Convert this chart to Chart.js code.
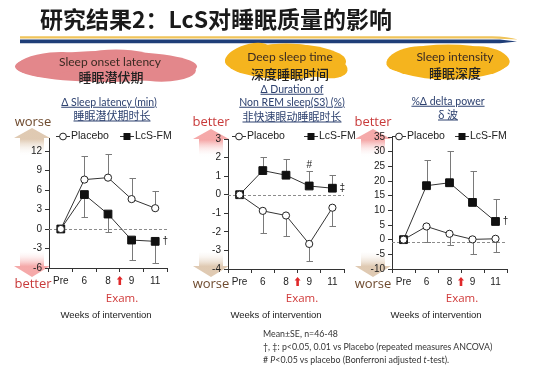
<!DOCTYPE html>
<html><head><meta charset="utf-8">
<script src="https://cdn.jsdelivr.net/npm/chart.js@4.4.0/dist/chart.umd.min.js"></script>
<style>
html,body{margin:0;padding:0;background:#fff;}
#wrap{position:relative;width:550px;height:366px;overflow:hidden;font-family:"Liberation Sans",Arial,sans-serif;}
canvas{position:absolute;left:0;top:0;}
.t{position:absolute;white-space:nowrap;line-height:1;transform:translate(-50%,-50%);}
.title{position:absolute;left:40px;top:18px;transform:translateY(-50%);font-family:"Noto Sans CJK SC",sans-serif;font-weight:700;font-size:23px;color:#1a1a1a;white-space:nowrap;line-height:1;}
.blobEn{font-family:Lato,"Open Sans",sans-serif;font-size:12px;color:#3a2a22;}
.blobZh{font-family:"Noto Sans CJK SC",sans-serif;font-size:13px;font-weight:500;color:#222;}
.sub{font-family:Lato,"Open Sans",sans-serif;font-size:10.5px;color:#2e4270;text-decoration:underline;}
.subZh{font-family:"Noto Sans CJK SC",sans-serif;font-size:11px;color:#2e4270;text-decoration:underline;}
.worse{font-family:"Open Sans",sans-serif;font-size:13px;color:#6e4a2e;}
.better{font-family:"Open Sans",sans-serif;font-size:13px;color:#c83a3a;}
.exam{font-family:"Open Sans",sans-serif;font-size:11.5px;color:#d03a3a;}
.weeks{font-family:"Liberation Sans",Arial,sans-serif;font-size:9.5px;color:#222;}
.foot{position:absolute;left:263px;font-family:Lato,"Open Sans",sans-serif;font-size:8.8px;color:#333;white-space:nowrap;line-height:1;transform:translateY(-50%);}
</style></head><body>
<div id="wrap">
<canvas id="bg" width="550" height="366"></canvas>
<canvas id="c1" width="550" height="366"></canvas>
<canvas id="c2" width="550" height="366"></canvas>
<canvas id="c3" width="550" height="366"></canvas>

<div class="title">研究结果2：LcS对睡眠质量的影响</div>

<div class="t blobEn" style="left:110px;top:62px">Sleep onset latency</div>
<div class="t blobZh" style="left:111px;top:76px">睡眠潜伏期</div>
<div class="t blobEn" style="left:290px;top:57px">Deep sleep time</div>
<div class="t blobZh" style="left:290px;top:73px">深度睡眠时间</div>
<div class="t blobEn" style="left:455px;top:57px">Sleep intensity</div>
<div class="t blobZh" style="left:455px;top:72px">睡眠深度</div>

<div class="t sub" style="left:109px;top:102px">Δ Sleep latency (min)</div>
<div class="t subZh" style="left:112px;top:115px">睡眠潜伏期时长</div>
<div class="t sub" style="left:292px;top:89px">Δ Duration of</div>
<div class="t sub" style="left:292px;top:102px">Non REM sleep(S3) (%)</div>
<div class="t subZh" style="left:292px;top:116px">非快速眼动睡眠时长</div>
<div class="t sub" style="left:448px;top:101px">%Δ delta power</div>
<div class="t subZh" style="left:448px;top:114px">δ 波</div>

<div class="t worse" style="left:33px;top:121px">worse</div>
<div class="t better" style="left:33px;top:283px">better</div>
<div class="t better" style="left:211px;top:121px">better</div>
<div class="t worse" style="left:211px;top:283px">worse</div>
<div class="t better" style="left:373px;top:121px">better</div>
<div class="t worse" style="left:373px;top:283px">worse</div>

<div class="t exam" style="left:122px;top:298px">Exam.</div>
<div class="t exam" style="left:302px;top:298px">Exam.</div>
<div class="t exam" style="left:462px;top:298px">Exam.</div>

<div class="t weeks" style="left:106px;top:315px">Weeks of intervention</div>
<div class="t weeks" style="left:276px;top:315px">Weeks of intervention</div>
<div class="t weeks" style="left:436px;top:315px">Weeks of intervention</div>

<div class="foot" style="top:334px">Mean±SE, n=46-48</div>
<div class="foot" style="top:347px">†, ‡: p&lt;0.05, 0.01 vs Placebo (repeated measures ANCOVA)</div>
<div class="foot" style="top:360px"># <i>P</i>&lt;0.05 vs placebo (Bonferroni adjusted <i>t</i>-test).</div>
</div>

<script>
// ---------------- data ----------------
const categories = ['Pre', '6', '8', '9', '11'];

const latencyPlacebo   = [0, 7.6, 7.9, 4.6, 3.2];
const latencyPlaceboSE = [0, 3.6, 3.6, 3.3, 2.7];
const latencyLcS       = [0, 5.3, 2.3, -1.7, -1.9];
const latencyLcSSE     = [0, 3.4, 2.8, 3.05, 3.4];
const latencyTicks     = [-6, -3, 0, 3, 6, 9, 12];

const deepPlacebo   = [0, -0.87, -1.12, -2.65, -0.7];
const deepPlaceboSE = [0, 1.18, 1.08, 0.9, 1.0];
const deepLcS       = [0, 1.3, 1.05, 0.47, 0.35];
const deepLcSSE     = [0, 0.75, 0.9, 0.8, 0.7];
const deepTicks     = [-4, -3, -2, -1, 0, 1, 2, 3];

const deltaPlacebo   = [0, 4.5, 2.0, 0.1, 0.3];
const deltaPlaceboSE = [0, 5.3, 3.9, 4.9, 4.5];
const deltaLcS       = [0, 18.4, 19.4, 12.7, 6.2];
const deltaLcSSE     = [0, 8.6, 10.9, 10.8, 7.7];
const deltaTicks     = [-10, -5, 0, 5, 10, 15, 20, 25, 30, 35];

const seriesNames = ['Placebo', 'LcS-FM'];

// ---------------- background decorations ----------------
(function drawBg(){
  const c = document.getElementById('bg').getContext('2d');
  // header lines
  c.fillStyle = '#F0C45A';
  c.beginPath(); c.moveTo(20,36.3); c.lineTo(492,36.3); c.quadraticCurveTo(508,36.5,518,39.5);
  c.lineTo(492,38.4); c.lineTo(20,38.4); c.closePath(); c.fill();
  c.fillStyle = '#1F3E78';
  c.beginPath(); c.moveTo(20,39.6); c.lineTo(500,39.6); c.lineTo(517,41.5); c.lineTo(500,43.2); c.lineTo(20,43.2); c.closePath(); c.fill();

  function blob(cx, cy, rx, ry, col, bumps){
    c.save(); c.fillStyle = col; c.filter = 'blur(0.7px)';
    c.beginPath(); c.ellipse(cx, cy, rx, ry, 0, 0, Math.PI*2); c.fill();
    bumps.forEach(b => { c.beginPath(); c.ellipse(cx+b[0], cy+b[1], b[2], b[3], b[4]||0, 0, Math.PI*2); c.fill(); });
    c.restore();
  }
  blob(106, 66.5, 91, 15.5, '#E3878B', [[-55,-3,35,11,-0.1],[50,2,40,13,0.05],[10,-6,40,11]]);
  blob(286, 61.5, 60, 17.5, '#F5B41E', [[-38,-6,24,11,-0.3],[36,4,26,12,0.2],[0,-9,35,9]]);
  blob(448, 62, 60, 17.5, '#F5B41E', [[-36,-3,26,12,-0.2],[38,-4,24,11,0.2],[0,8,35,9]]);

  function arrow(cx, tipY, baseY, endY, col){
    const g = c.createLinearGradient(0, tipY, 0, endY);
    g.addColorStop(0, col); g.addColorStop(0.4, col); g.addColorStop(1, 'rgba(255,255,255,0)');
    c.save(); c.fillStyle = g;
    c.beginPath();
    c.moveTo(cx, tipY);
    c.lineTo(cx+18, baseY); c.lineTo(cx+12, baseY); c.lineTo(cx+12, endY);
    c.lineTo(cx-12, endY); c.lineTo(cx-12, baseY); c.lineTo(cx-18, baseY);
    c.closePath(); c.fill(); c.restore();
  }
  const tan = 'rgba(220,196,170,0.9)', pink = 'rgba(244,160,160,0.9)';
  arrow(32, 128, 138, 156, tan);
  arrow(32, 277, 266, 250, pink);
  arrow(211, 129, 139, 157, pink);
  arrow(211, 277, 266, 250, tan);
  arrow(373, 129, 139, 157, pink);
  arrow(373, 277, 266, 250, tan);
})();

// ---------------- charts ----------------
const panelCfg = {
  c1: { area:[49,167,138,268], min:-6, max:14, ticks:latencyTicks, ref:0,
        data:[latencyPlacebo, latencyLcS], se:[latencyPlaceboSE, latencyLcSSE], dir:[1,-1],
        legend:[56,120], marks:[{ds:1,i:4,t:'†',dx:10,dy:0}] },
  c2: { area:[228,344,139,269], min:-4, max:3, ticks:deepTicks, ref:0,
        data:[deepPlacebo, deepLcS], se:[deepPlaceboSE, deepLcSSE], dir:[-1,1],
        legend:[232,304], marks:[{ds:1,i:4,t:'‡',dx:10,dy:0},{ds:1,i:3,t:'#',dx:0,dy:-21}] },
  c3: { area:[392,507,137,269], min:-10, max:35, ticks:deltaTicks, ref:-0.8,
        data:[deltaPlacebo, deltaLcS], se:[deltaPlaceboSE, deltaLcSSE], dir:[-1,1],
        legend:[392,455], marks:[{ds:1,i:4,t:'†',dx:10,dy:0}] }
};

const panelPlugin = {
  id: 'panelDeco',
  beforeDatasetsDraw(chart){
    const cfg = panelCfg[chart.canvas.id];
    const ctx = chart.ctx, ca = chart.chartArea, xs = chart.scales.x, ys = chart.scales.y;
    ctx.save();
    const ry = Math.round(ys.getPixelForValue(cfg.ref)) + 0.5;
    ctx.strokeStyle = '#8c8c8c'; ctx.lineWidth = 1; ctx.setLineDash([3,2]);
    ctx.beginPath(); ctx.moveTo(ca.left, ry); ctx.lineTo(ca.right, ry); ctx.stroke();
    ctx.setLineDash([]);
    ctx.strokeStyle = '#7a7a7a';
    cfg.data.forEach((arr, d) => {
      arr.forEach((v, i) => {
        const se = cfg.se[d][i]; if (!se) return;
        const px = Math.round(xs.getPixelForValue(i)) + 0.5;
        const p0 = ys.getPixelForValue(v), p1 = Math.round(ys.getPixelForValue(v + cfg.dir[d]*se)) + 0.5;
        ctx.beginPath(); ctx.moveTo(px, p0); ctx.lineTo(px, p1);
        ctx.moveTo(px-3, p1); ctx.lineTo(px+3.5, p1); ctx.stroke();
      });
    });
    ctx.restore();
  },
  afterDraw(chart){
    const cfg = panelCfg[chart.canvas.id];
    const ctx = chart.ctx, xs = chart.scales.x, ys = chart.scales.y;
    ctx.save();
    const ly = 136;
    ctx.font = '10.5px "Liberation Sans", Arial, sans-serif';
    ctx.textBaseline = 'middle'; ctx.fillStyle = '#222';
    ctx.strokeStyle = '#333'; ctx.lineWidth = 1;
    let lx = cfg.legend[0];
    ctx.beginPath(); ctx.moveTo(lx, ly+0.5); ctx.lineTo(lx+14, ly+0.5); ctx.stroke();
    ctx.beginPath(); ctx.arc(lx+7, ly+0.5, 3.4, 0, Math.PI*2); ctx.fillStyle='#fff'; ctx.fill(); ctx.strokeStyle='#222'; ctx.stroke();
    ctx.fillStyle = '#222'; ctx.fillText(seriesNames[0], lx+15, ly+0.5);
    lx = cfg.legend[1];
    ctx.strokeStyle = '#333';
    ctx.beginPath(); ctx.moveTo(lx, ly+0.5); ctx.lineTo(lx+14, ly+0.5); ctx.stroke();
    ctx.fillStyle = '#111'; ctx.fillRect(lx+3.5, ly-3, 7, 7);
    ctx.fillStyle = '#222'; ctx.fillText(seriesNames[1], lx+15, ly+0.5);
    ctx.font = '10px "Liberation Sans", Arial, sans-serif';
    ctx.textAlign = 'center';
    cfg.marks.forEach(m => {
      const v = cfg.data[m.ds][m.i];
      ctx.fillText(m.t, xs.getPixelForValue(m.i) + m.dx, ys.getPixelForValue(v) + m.dy);
    });
    const ax = (xs.getPixelForValue(2) + xs.getPixelForValue(3)) / 2;
    const top = chart.chartArea.bottom + 8;
    ctx.fillStyle = '#e0282a';
    ctx.beginPath();
    ctx.moveTo(ax, top); ctx.lineTo(ax+3, top+3.5); ctx.lineTo(ax+1.3, top+3.5); ctx.lineTo(ax+1.3, top+9);
    ctx.lineTo(ax-1.3, top+9); ctx.lineTo(ax-1.3, top+3.5); ctx.lineTo(ax-3, top+3.5); ctx.closePath(); ctx.fill();
    ctx.restore();
  }
};

function makeChart(id){
  const cfg = panelCfg[id];
  const yW = 30, xH = 22;
  const [L, R, T, B] = cfg.area;
  new Chart(document.getElementById(id), {
    type: 'line',
    data: {
      labels: categories,
      datasets: [
        { label: seriesNames[0], data: cfg.data[0], borderColor: '#333', borderWidth: 1, tension: 0,
          pointStyle: 'circle', pointRadius: 3.6, pointBackgroundColor: '#fff', pointBorderColor: '#222', pointBorderWidth: 1 },
        { label: seriesNames[1], data: cfg.data[1], borderColor: '#333', borderWidth: 1, tension: 0,
          pointStyle: 'rect', pointRadius: 5.5, pointBackgroundColor: '#111', pointBorderColor: '#111', pointBorderWidth: 1 }
      ]
    },
    options: {
      responsive: false, animation: false, devicePixelRatio: 1,
      layout: { padding: { left: L - yW, right: 550 - R, top: T, bottom: 366 - B - xH } },
      plugins: { legend: { display: false }, tooltip: { enabled: false } },
      scales: {
        x: {
          type: 'category', offset: true,
          grid: { display: true, drawOnChartArea: false, offset: true, tickLength: 4, color: '#333' },
          border: { color: '#333', width: 1 },
          ticks: { color: '#222', font: { family: '"Liberation Sans", Arial, sans-serif', size: 10 }, padding: 3, autoSkip: false, maxRotation: 0 },
          afterFit: s => { s.height = xH; }
        },
        y: {
          min: cfg.min, max: cfg.max,
          afterBuildTicks: s => { s.ticks = cfg.ticks.map(v => ({ value: v })); },
          grid: { display: true, drawOnChartArea: false, tickLength: 4, color: '#333' },
          border: { color: '#333', width: 1 },
          ticks: { color: '#222', font: { family: '"Liberation Sans", Arial, sans-serif', size: 10 }, padding: 3, autoSkip: false },
          afterFit: s => { s.width = yW; }
        }
      }
    },
    plugins: [panelPlugin]
  });
}
makeChart('c1'); makeChart('c2'); makeChart('c3');
</script>
</body></html>
